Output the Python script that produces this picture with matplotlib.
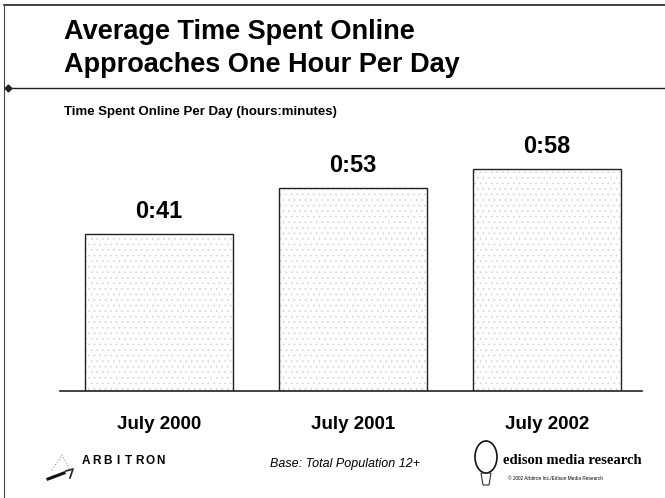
import numpy as np
import matplotlib.pyplot as plt
from matplotlib.patches import Ellipse, Polygon

# data
years = ["July 2000", "July 2001", "July 2002"]
minutes = [41, 53, 58]
labels = ["0:41", "0:53", "0:58"]

W, H = 665, 498
plt.rcParams["hatch.linewidth"] = 0.5
fig = plt.figure(figsize=(W / 100, H / 100), dpi=100)
fig.patch.set_facecolor("white")

def fx(px):
    return px / W

def fy(py):
    return 1 - py / H

# slide frame
fig.add_artist(plt.Line2D([fx(4), 1], [fy(5), fy(5)], color="#222", lw=1.2))
fig.add_artist(plt.Line2D([fx(4), fx(4)], [fy(5), 0], color="#444", lw=0.8))
# title rule with diamond
fig.add_artist(plt.Line2D([fx(8), 1], [fy(88), fy(88)], color="#222", lw=1.0))
fig.add_artist(plt.Line2D([fx(8)], [fy(88)], marker="D", ms=3.5, color="#222"))

fig.text(fx(64), fy(32), "Average Time Spent Online", fontsize=19.5, fontweight="bold",
         family="Liberation Sans", va="center", ha="left")
fig.text(fx(64), fy(65), "Approaches One Hour Per Day", fontsize=19.5, fontweight="bold",
         family="Liberation Sans", va="center", ha="left")
fig.text(fx(64), fy(112), "Time Spent Online Per Day (hours:minutes)", fontsize=9.5,
         fontweight="bold", family="Liberation Sans", va="center", ha="left")

# bars: light speckle layer, then outline
ax = fig.add_axes([fx(60), fy(391), fx(642) - fx(60), (391 - 150) / H])
x = np.arange(len(years))
ax.bar(x, minutes, width=0.76, color="white", edgecolor="#d4d4d4", linewidth=0,
       hatch="...")
ax.bar(x, minutes, width=0.76, fill=False, edgecolor="#222", linewidth=1.0)
for xi, m, lab in zip(x, minutes, labels):
    ax.text(xi, m + 3.0, lab, ha="center", va="bottom", fontsize=17, fontweight="bold",
            family="Liberation Sans")
ax.set_xlim(-0.51, 2.49)
ax.set_ylim(0, 63)
ax.set_xticks(x)
ax.set_xticklabels(years, fontsize=13.5, fontweight="bold", family="Liberation Sans")
ax.tick_params(axis="x", length=0, pad=18)
ax.set_yticks([])
for s in ["top", "left", "right"]:
    ax.spines[s].set_visible(False)
ax.spines["bottom"].set_color("#222")
ax.spines["bottom"].set_linewidth(1.2)
ax.patch.set_alpha(0)

# footer: Arbitron
fig.add_artist(plt.Line2D([fx(48), fx(64)], [fy(479), fy(473)], color="#111", lw=2.2))
fig.add_artist(plt.Line2D([fx(52), fx(62), fx(70)], [fy(470), fy(455), fy(470)],
                          color="#999", lw=0.8, ls=":"))
fig.add_artist(plt.Line2D([fx(66), fx(73), fx(70)], [fy(471), fy(469), fy(478)],
                          color="#222", lw=1.2))
for i, ch in enumerate("ARBITRON"):
    fig.text(fx(86 + i * 10.7), fy(461), ch, fontsize=8.5, fontweight="bold",
             family="Liberation Sans", ha="center", va="center")
fig.text(fx(345), fy(464), "Base: Total Population 12+", fontsize=9, style="italic",
         family="Liberation Sans", ha="center", va="center")

# footer: edison
fig.add_artist(Ellipse((fx(486), fy(457)), fx(22), 32 / H, fill=False, ec="#111", lw=1.2))
fig.add_artist(Polygon([[fx(481), fy(473)], [fx(491), fy(473)], [fx(489), fy(485)],
                        [fx(483), fy(485)]], closed=True, fill=False, ec="#333", lw=0.8))
fig.text(fx(503), fy(460), "edison media research", fontsize=10.5, fontweight="bold",
         family="Liberation Serif", ha="left", va="center")
fig.text(fx(508), fy(478), "\u00a9 2002 Arbitron Inc./Edison Media Research", fontsize=3.4,
         family="Liberation Sans", ha="left", va="center")

fig.savefig("out.png", dpi=100)
